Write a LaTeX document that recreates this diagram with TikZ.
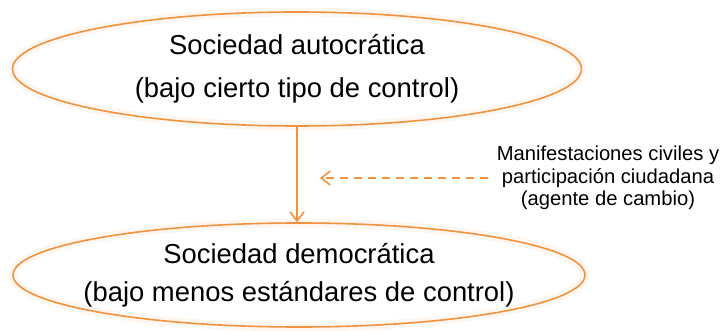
\documentclass[tikz,border=0pt]{standalone}
\usepackage{fontspec}
\setmainfont{Liberation Sans}
\usetikzlibrary{arrows.meta,shapes.geometric}

\definecolor{naranja}{RGB}{241,146,62}

\begin{document}
\begin{tikzpicture}[x=1pt,y=-1pt,
    sociedad/.style={ellipse, draw=naranja, line width=1.6pt, inner sep=0pt,
      preaction={draw=naranja!7, line width=9pt},
      align=center, font=\fontsize{27.4}{43}\selectfont},
    agente/.style={align=center, inner sep=0pt, font=\fontsize{20.2}{22.6}\selectfont},
    flecha/.style={naranja, line width=1.6pt, -{Straight Barb[length=9pt,width=14pt,line width=1.6pt]}}]
  \useasboundingbox (0,0) rectangle (726,331);

  \node[sociedad, minimum width=569pt, minimum height=114pt] (a) at (297,69)
    {Sociedad autocrática\\(bajo cierto tipo de control)};
  \node[sociedad, font=\fontsize{27.4}{38}\selectfont, inner xsep=-20pt,
    minimum width=572pt, minimum height=104pt] (b) at (299,275)
    {Sociedad democrática\\(bajo menos estándares de control)};
  \node[agente] (c) at (608,178)
    {Manifestaciones civiles y\\participación ciudadana\\(agente de cambio)};
  \coordinate (d) at (320,178);

  \draw[flecha] (a.south -| 297,0) -- (b.north -| 297,0);
  \draw[flecha, dash pattern=on 8pt off 6pt] ([xshift=-9pt]c.west) -- (d);
\end{tikzpicture}
\end{document}
